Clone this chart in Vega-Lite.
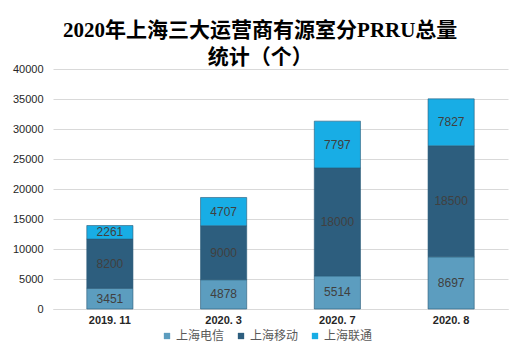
{
  "$schema": "https://vega.github.io/schema/vega-lite/v6.json",
  "width": 516,
  "height": 356,
  "autosize": {"type": "fit", "contains": "padding"},
  "padding": {"left": 12, "right": 8, "top": 20, "bottom": 31},
  "background": "white",
  "title": {
    "text": ["2020年上海三大运营商有源室分PRRU总量", "统计（个）"],
    "font": "Liberation Serif, Noto Sans CJK SC",
    "fontSize": 21,
    "fontWeight": "bold",
    "color": "#000000",
    "lineHeight": 27,
    "anchor": "middle",
    "frame": "bounds",
    "offset": -5
  },
  "data": {
    "values": [
      {"period": "2019. 11", "series": "上海电信", "order": 1, "value": 3451},
      {"period": "2019. 11", "series": "上海移动", "order": 2, "value": 8200},
      {"period": "2019. 11", "series": "上海联通", "order": 3, "value": 2261},
      {"period": "2020. 3", "series": "上海电信", "order": 1, "value": 4878},
      {"period": "2020. 3", "series": "上海移动", "order": 2, "value": 9000},
      {"period": "2020. 3", "series": "上海联通", "order": 3, "value": 4707},
      {"period": "2020. 7", "series": "上海电信", "order": 1, "value": 5514},
      {"period": "2020. 7", "series": "上海移动", "order": 2, "value": 18000},
      {"period": "2020. 7", "series": "上海联通", "order": 3, "value": 7797},
      {"period": "2020. 8", "series": "上海电信", "order": 1, "value": 8697},
      {"period": "2020. 8", "series": "上海移动", "order": 2, "value": 18500},
      {"period": "2020. 8", "series": "上海联通", "order": 3, "value": 7827}
    ]
  },
  "transform": [
    {"stack": "value", "groupby": ["period"], "sort": [{"field": "order", "order": "ascending"}], "as": ["v0", "v1"]},
    {"calculate": "(datum.v0 + datum.v1) / 2", "as": "mid"}
  ],
  "encoding": {
    "x": {
      "field": "period",
      "type": "nominal",
      "sort": null,
      "scale": {"paddingInner": 0.594, "paddingOuter": 0.297},
      "axis": {
        "title": null,
        "labelAngle": 0,
        "labelFontSize": 11,
        "labelFont": "Liberation Sans Narrow, Liberation Sans",
        "labelFontWeight": "bold",
        "labelColor": "#262626",
        "labelPadding": 5,
        "domainColor": "#d9d9d9",
        "ticks": false,
        "grid": false
      }
    }
  },
  "layer": [
    {
      "mark": {"type": "bar", "stroke": "#2a5a78", "strokeWidth": 1, "strokeOpacity": 0.6},
      "encoding": {
        "y": {
          "field": "v0",
          "type": "quantitative",
          "scale": {"domain": [0, 40000]},
          "axis": {
            "title": null,
            "values": [0, 5000, 10000, 15000, 20000, 25000, 30000, 35000, 40000],
            "format": "d",
            "labelFontSize": 11,
            "labelFont": "Liberation Sans",
            "labelColor": "#262626",
            "labelPadding": 10,
            "labelOverlap": false,
            "domain": false,
            "ticks": false,
            "gridColor": "#d9d9d9",
            "gridWidth": 1
          }
        },
        "y2": {"field": "v1"},
        "color": {
          "field": "series",
          "type": "nominal",
          "sort": ["上海电信", "上海移动", "上海联通"],
          "scale": {"domain": ["上海电信", "上海移动", "上海联通"], "range": ["#5c9dbf", "#2d5e7e", "#18ade5"]},
          "legend": {
            "title": null,
            "orient": "none",
            "legendX": 108,
            "legendY": 261,
            "direction": "horizontal",
            "symbolType": "square",
            "symbolSize": 40,
            "symbolStrokeWidth": 0,
            "labelFontSize": 12,
            "labelFont": "Noto Sans CJK SC",
            "labelColor": "#595959",
            "columnPadding": 10,
            "labelOffset": 3,
            "padding": 0
          }
        }
      }
    },
    {
      "mark": {"type": "text", "fontSize": 12, "font": "Liberation Sans", "color": "#404040", "baseline": "middle"},
      "encoding": {
        "y": {
          "field": "mid",
          "type": "quantitative",
          "axis": {
            "title": null,
            "values": [0, 5000, 10000, 15000, 20000, 25000, 30000, 35000, 40000],
            "format": "d",
            "labelFontSize": 11,
            "labelFont": "Liberation Sans",
            "labelColor": "#262626",
            "labelPadding": 10,
            "labelOverlap": false,
            "domain": false,
            "ticks": false,
            "gridColor": "#d9d9d9",
            "gridWidth": 1
          }
        },
        "text": {"field": "value", "type": "quantitative", "format": "d"}
      }
    }
  ],
  "config": {"view": {"stroke": null}}
}
